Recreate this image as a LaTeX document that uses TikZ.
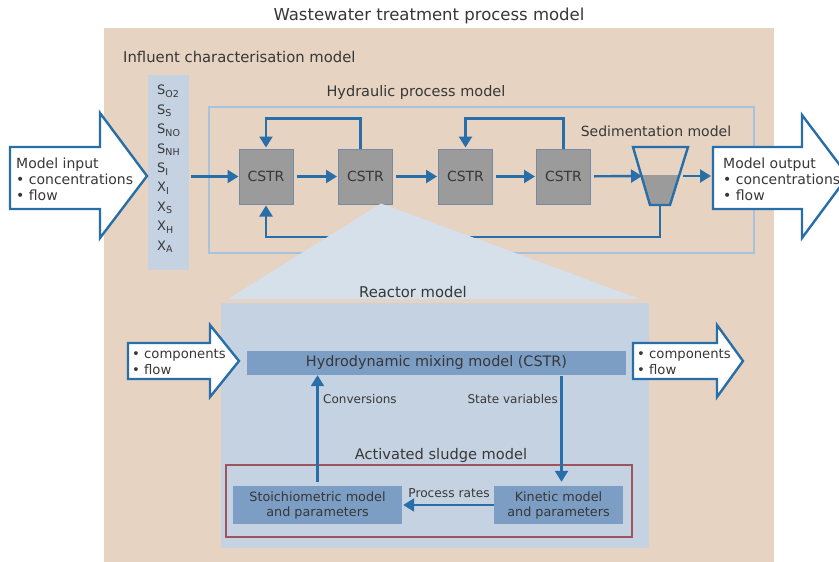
\documentclass[tikz,border=0pt]{standalone}
\usepackage{fontspec}
\setmainfont{DejaVu Sans}
\usetikzlibrary{arrows.meta,calc}

\definecolor{tanbg}{RGB}{230,211,194}
\definecolor{flowblue}{RGB}{40,110,168}
\definecolor{paleblue}{RGB}{197,210,226}
\definecolor{fanblue}{RGB}{214,224,235}
\definecolor{barblue}{RGB}{124,157,196}
\definecolor{hydline}{RGB}{166,194,222}
\definecolor{cstrgray}{RGB}{155,155,155}
\definecolor{cstredge}{RGB}{118,138,165}
\definecolor{sludgered}{RGB}{158,84,92}
\definecolor{inkgray}{RGB}{55,55,55}

\newcommand\chsub[1]{\raisebox{-2.5pt}{\fontsize{9.5}{10}\selectfont #1}}

\tikzset{
  flow/.style={draw=flowblue,line width=2.4pt,-{Triangle[length=11pt,width=13pt]}},
  cstr/.style={draw=cstredge,line width=1pt,fill=cstrgray,minimum width=54pt,minimum height=55pt,
    inner sep=0pt,font=\fontsize{14}{16}\selectfont,text=inkgray},
  bigarrow/.style={draw=flowblue,line width=2.4pt,fill=white,line join=miter},
  subbox/.style={fill=barblue,inner sep=0pt,text=inkgray,align=center},
  lbl/.style={text=inkgray,inner sep=0pt},
}

\begin{document}
\begin{tikzpicture}[x=1pt,y=-1pt]
    \clip (0,0) rectangle (839,562);
    \fill[white] (0,0) rectangle (839,562);
    \fill[tanbg] (104,28) rectangle (774,562);
    \node[lbl,font=\fontsize{16.5}{18}\selectfont] (title) at (429,16) {Wastewater treatment process model};
    \node[lbl,anchor=west,font=\fontsize{14.8}{17}\selectfont] (inflabel) at (123,57) {Influent characterisation model};

    % influent components
    \node[fill=paleblue,minimum width=41pt,minimum height=195pt,inner sep=0pt] (influent) at (168.5,172.5) {};
    \foreach \lab [count=\i from 0] in {S\chsub{O2},S\chsub{S},S\chsub{NO},S\chsub{NH},S\chsub{I},X\chsub{I},X\chsub{S},X\chsub{H},X\chsub{A}}
        \node[lbl,anchor=west,font=\fontsize{13}{15}\selectfont] (comp\i) at (157,{91+19.5*\i}) {\lab};

    % hydraulic process model
    \node[draw=hydline,line width=1.6pt,minimum width=545pt,minimum height=146pt,inner sep=0pt] (hydraulic) at (481.5,180) {};
    \node[lbl,font=\fontsize{14.5}{17}\selectfont] (hydlabel) at (416,92) {Hydraulic process model};
    \node[lbl,font=\fontsize{14}{16}\selectfont] (sedlabel) at (656,131) {Sedimentation model};
    \node[cstr] (cstrA) at (266,176.5) {CSTR};
    \node[cstr] (cstrB) at (365.5,176.5) {CSTR};
    \node[cstr] (cstrC) at (465.5,176.5) {CSTR};
    \node[cstr] (cstrD) at (563.5,176.5) {CSTR};
    \fill[cstrgray] (641.5,175) -- (679,175) -- (670,205) -- (650,205) -- cycle;
    \draw[flowblue,line width=2.4pt,line join=miter] (633,147) -- (688,147) -- (670,205) -- (650,205) -- cycle;
    \coordinate (settlerin) at (642,176);
    \coordinate (settlerout) at (680,176);
    \coordinate (settlerbot) at (660,205);

    % model input / output
    \draw[bigarrow] (10,147) -- (100,147) -- (100,113) -- (147,176) -- (100,238) -- (100,209) -- (10,209) -- cycle;
    \node[lbl,anchor=west,align=left,font=\fontsize{14}{16}\selectfont] (intext) at (16,179) {Model input\\• concentrations\\• flow};
    \draw[bigarrow] (713,147) -- (802,147) -- (802,115) -- (848,176) -- (802,238) -- (802,209) -- (713,209) -- cycle;
    \coordinate (outtail) at (713,176);
    \node[lbl,anchor=west,align=left,font=\fontsize{14}{16}\selectfont] (outtext) at (723,179) {Model output\\• concentrations\\• flow};

    \draw[flow,shorten <=2pt] (influent.east |- cstrA) -- (cstrA);
    \draw[flow,shorten <=3pt,shorten >=1pt] (cstrA) -- (cstrB);
    \draw[flow,shorten <=3pt,shorten >=1pt] (cstrB) -- (cstrC);
    \draw[flow,shorten <=3pt,shorten >=1pt] (cstrC) -- (cstrD);
    \draw[flow,shorten <=3pt] (cstrD) -- (settlerin);
    \draw[flow,shorten <=3pt,shorten >=2pt] (settlerout) -- (outtail);
    \draw[flow,shorten >=1pt] ($(cstrB.north)+(-5,0)$) -- ++(0,-30) -| (cstrA.north);
    \draw[flow,shorten >=1pt] (cstrD.north) -- ++(0,-30) -| (cstrC.north);
    \draw[flow,shorten >=1pt] (settlerbot) -- ++(0,32) -| (cstrA.south);

    % zoom into reactor
    \fill[fanblue] ($(cstrB.south east)+(-12,-1)$) -- (228,299) -- (640,299) -- cycle;
    \node[fill=paleblue,minimum width=428pt,minimum height=245pt,inner sep=0pt] (reactor) at (435,425.5) {};
    \node[lbl,font=\fontsize{14.8}{17}\selectfont] (reactlabel) at (413,292) {Reactor model};
    \node[subbox,minimum width=379pt,minimum height=24pt,font=\fontsize{14.4}{16}\selectfont] (hydro) at (436.5,363) {Hydrodynamic mixing model (CSTR)};

    \draw[bigarrow] (128,343) -- (210,343) -- (210,325) -- (239,361) -- (210,397) -- (210,379) -- (128,379) -- cycle;
    \node[lbl,anchor=west,align=left,font=\fontsize{13.2}{16}\selectfont] (rintext) at (132,362) {• components\\• flow};
    \draw[bigarrow] (633,343) -- (717,343) -- (717,325) -- (743,361) -- (717,397) -- (717,379) -- (633,379) -- cycle;
    \node[lbl,anchor=west,align=left,font=\fontsize{13.2}{16}\selectfont] (routtext) at (637,362) {• components\\• flow};

    % activated sludge model
    \node[draw=sludgered,line width=1.2pt,minimum width=406pt,minimum height=72pt,inner sep=0pt] (asm) at (429,501) {};
    \node[lbl,font=\fontsize{14.6}{17}\selectfont] (asmlabel) at (441,455) {Activated sludge model};
    \node[subbox,minimum width=169pt,minimum height=38pt,font=\fontsize{12.8}{15}\selectfont] (stoich) at (317.5,505) {Stoichiometric model\\and parameters};
    \node[subbox,minimum width=129pt,minimum height=38pt,font=\fontsize{12.8}{15}\selectfont] (kinetic) at (558.5,505) {Kinetic model\\and parameters};

    \draw[flow,shorten <=4pt] (stoich.north) -- (stoich.north |- hydro.south);
    \draw[flow,shorten <=1pt,shorten >=4pt] ($(hydro.south -| kinetic.north)+(3,0)$) -- ($(kinetic.north)+(3,0)$);
    \draw[flow,shorten >=1pt] (kinetic.west) -- (stoich.east);
    \node[lbl,anchor=west,font=\fontsize{12}{14}\selectfont] (convlabel) at (323,399) {Conversions};
    \node[lbl,anchor=east,font=\fontsize{12}{14}\selectfont] (statelabel) at (558,399) {State variables};
    \node[lbl,font=\fontsize{12.2}{14}\selectfont] (ratelabel) at (449,493) {Process rates};
\end{tikzpicture}
\end{document}
